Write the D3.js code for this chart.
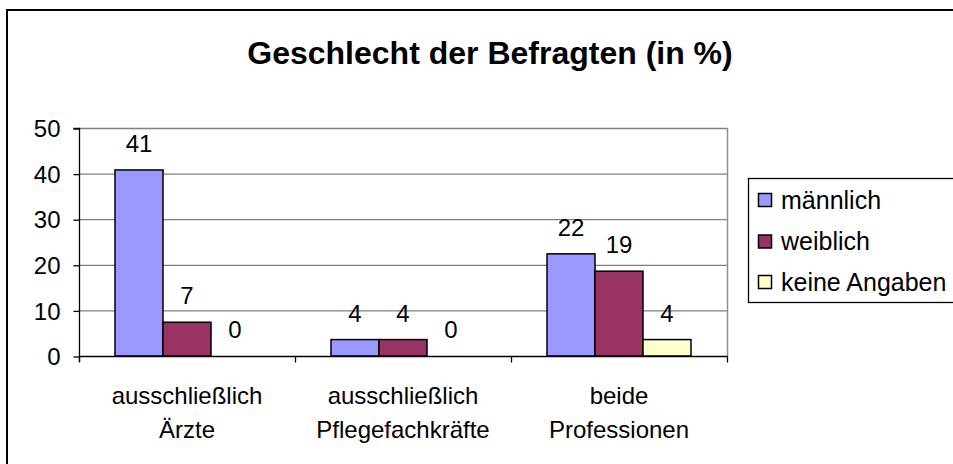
<!DOCTYPE html>
<html>
<head>
<meta charset="utf-8">
<script src="https://cdn.jsdelivr.net/npm/d3@7"></script>
<style>
  html, body { margin: 0; padding: 0; background: #fff; }
  svg { display: block; }
  text { font-family: "Liberation Sans", Arial, sans-serif; fill: #000; }
</style>
</head>
<body>
<svg id="chart" width="953" height="464"></svg>
<script>
const categories = [["ausschließlich", "Ärzte"], ["ausschließlich", "Pflegefachkräfte"], ["beide", "Professionen"]];
const seriesNames = ["männlich", "weiblich", "keine Angaben"];
const seriesColors = ["#9999FF", "#993366", "#FFFFCC"];
const maennlich = [40.8, 3.6, 22.4];
const weiblich = [7.4, 3.6, 18.6];
const keineAngaben = [0, 0, 3.6];
const seriesValues = [maennlich, weiblich, keineAngaben];
const yTicks = [0, 10, 20, 30, 40, 50];
const title = "Geschlecht der Befragten (in %)";

const svg = d3.select("#chart");
const plot = { left: 79, right: 727, top: 128, bottom: 356 };

// outer frame
svg.append("rect").attr("x", 7).attr("y", 10).attr("width", 1000).attr("height", 500)
  .attr("fill", "none").attr("stroke", "#000").attr("stroke-width", 2);

svg.append("text").attr("x", 490).attr("y", 64).attr("text-anchor", "middle")
  .style("font-size", "32px").style("font-weight", "bold").text(title);

const catIdx = categories.map((c, i) => i);
const x = d3.scaleBand().domain(catIdx).range([plot.left, plot.right]);
const xs = d3.scaleBand().domain(d3.range(seriesNames.length))
  .range([x.bandwidth() / 6, x.bandwidth() * 5 / 6]);
const y = d3.scaleLinear().domain([0, 50]).range([plot.bottom, plot.top]);

// gridlines
svg.append("g").selectAll("line").data(yTicks.filter(t => t > 0)).join("line")
  .attr("x1", plot.left).attr("x2", plot.right)
  .attr("y1", d => y(d) + 0.5).attr("y2", d => y(d) + 0.5)
  .attr("stroke", "#808080").attr("stroke-width", 1.3);
svg.append("line").attr("x1", plot.right + 0.5).attr("x2", plot.right + 0.5)
  .attr("y1", plot.top).attr("y2", plot.bottom)
  .attr("stroke", "#909090").attr("stroke-width", 1.5);

// bars
seriesValues.forEach((vals, si) => {
  svg.append("g").selectAll("rect").data(vals).join("rect")
    .attr("x", (d, i) => x(i) + xs(si))
    .attr("y", d => y(d))
    .attr("width", xs.bandwidth())
    .attr("height", d => plot.bottom - y(d))
    .attr("fill", seriesColors[si])
    .attr("stroke", d => d > 0 ? "#000" : "none").attr("stroke-width", 1.5);
  svg.append("g").selectAll("text").data(vals).join("text")
    .attr("x", (d, i) => x(i) + xs(si) + xs.bandwidth() / 2)
    .attr("y", d => y(d) - 18)
    .attr("text-anchor", "middle").style("font-size", "24px")
    .text(d => d3.format(".0f")(d));
});

// y axis
const yAxis = d3.axisLeft(y).tickValues(yTicks).tickSize(6).tickPadding(13);
const gy = svg.append("g").attr("transform", `translate(${plot.left + 0.5},0)`).call(yAxis);
gy.select(".domain").attr("stroke", "#000").attr("stroke-width", 1.3).attr("d", `M-6,${plot.top + 0.5}H0V${plot.bottom + 6}`);
gy.selectAll(".tick line").attr("stroke", "#000").attr("stroke-width", 1.3).attr("transform", "translate(0,0.5)");
gy.selectAll(".tick text").style("font-size", "24px").style("font-family", "Liberation Sans, Arial, sans-serif")
  .attr("dy", "0.36em").attr("fill", "#000");

// x axis
const xAxisScale = d3.scaleLinear().domain([0, categories.length]).range([plot.left, plot.right]);
const gx = svg.append("g").attr("transform", `translate(0,${plot.bottom + 0.5})`)
  .call(d3.axisBottom(xAxisScale).tickValues(d3.range(categories.length + 1)).tickSize(6).tickFormat(""));
gx.select(".domain").attr("stroke", "#000").attr("stroke-width", 1.3).attr("d", `M${plot.left},0H${plot.right + 1}`);
gx.selectAll(".tick line").attr("stroke", "#000").attr("stroke-width", 1.3);

const catG = svg.append("g").selectAll("text").data(categories).join("text")
  .attr("text-anchor", "middle").style("font-size", "24px");
catG.each(function(d, i) {
  const t = d3.select(this);
  d.forEach((line, li) => {
    t.append("tspan").attr("x", x(i) + x.bandwidth() / 2).attr("y", 404 + li * 34).text(line);
  });
});

// legend
const lg = svg.append("g");
lg.append("rect").attr("x", 748.5).attr("y", 178.5).attr("width", 300).attr("height", 124)
  .attr("fill", "#fff").attr("stroke", "#000").attr("stroke-width", 1.3);
const rowY = [200, 241.5, 282];
seriesNames.forEach((n, i) => {
  lg.append("rect").attr("x", 758.5).attr("y", rowY[i] - 6.5).attr("width", 13).attr("height", 13)
    .attr("fill", seriesColors[i]).attr("stroke", "#000").attr("stroke-width", 1.5);
  lg.append("text").attr("x", 781).attr("y", rowY[i] + 8.5).style("font-size", "25px").text(n);
});
</script>
</body>
</html>
